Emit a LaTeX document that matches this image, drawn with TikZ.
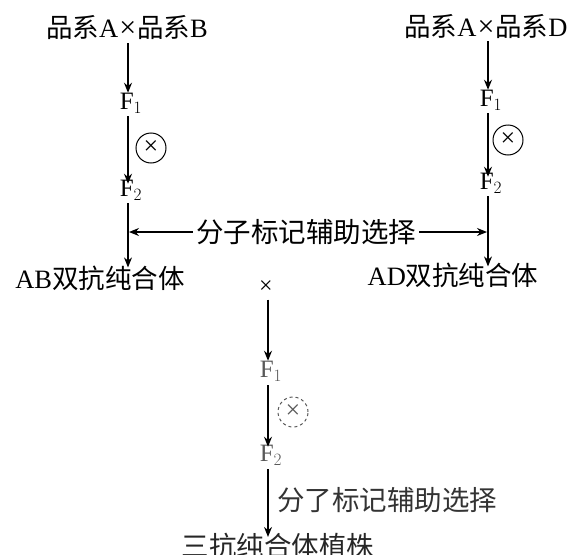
\documentclass[tikz,border=0pt]{standalone}
\usepackage{fontspec}
\setmainfont{Liberation Serif}
\newfontfamily\cjk{Noto Sans CJK SC}
\usetikzlibrary{arrows.meta}
\newcommand{\bigx}{\hspace{1pt}{\fontsize{30}{30}\selectfont ×}\hspace{1pt}}
\begin{document}
\begin{tikzpicture}[x=1pt,y=-1pt,
  arr/.style={line width=1.2pt,-{Stealth[length=10pt,width=8pt]}},
  lbl/.style={inner sep=0pt,font=\fontsize{26.5}{28}\selectfont},
  fnode/.style={inner sep=0pt,font=\fontsize{25}{25}\selectfont},
  selfx/.style={circle,draw,line width=1pt,minimum size=30pt,inner sep=0pt,font=\fontsize{26}{26}\selectfont},
  faint/.style={black!65}]
\useasboundingbox (0,0) rectangle (575,554);
% column coordinates
\coordinate (cl) at (128,0);
\coordinate (cr) at (488,0);
\coordinate (cb) at (268,0);
% left column
\node[lbl] (pab) at (127,28) {{\cjk 品系}A\bigx{\cjk 品系}B};
\node[fnode] (f1l) at (131,103) {F$_1$};
\node[selfx] (xl) at (151,148) {×};
\node[fnode] (f2l) at (131,190) {F$_2$};
\node[lbl] (ab) at (100,278) {AB{\cjk 双抗纯合体}};
% right column
\node[lbl] (pad) at (486,27) {{\cjk 品系}A\bigx{\cjk 品系}D};
\node[fnode] (f1r) at (491,100) {F$_1$};
\node[selfx] (xr) at (508,140) {×};
\node[fnode] (f2r) at (491,183) {F$_2$};
\node[lbl] (ad) at (453,275) {AD{\cjk 双抗纯合体}};
% middle label
\node[lbl,font=\fontsize{27.5}{28}\selectfont\cjk] (mas) at (306,232) {分子标记辅助选择};
% bottom column
\node[inner sep=0pt,font=\fontsize{24}{24}\selectfont] (cross) at (266,287) {×};
\node[fnode,faint] (f1b) at (271,371) {F$_1$};
\node[selfx,faint,dashed] (xb) at (293,412) {×};
\node[fnode,faint] (f2b) at (271,455) {F$_2$};
\node[lbl,font=\fontsize{27.5}{28}\selectfont\cjk,black!80,anchor=west] (mas2) at (277,500) {分了标记辅助选择};
\node[lbl,font=\fontsize{27.5}{28}\selectfont\cjk,black!85] (tri) at (278,546) {三抗纯合体植株};
% arrows left
\draw[arr] (pab.south -| cl) ++(0,3) -- (f1l.north -| cl);
\draw[arr] (f1l.south -| cl) ++(0,3) -- ([yshift=-4pt]f2l.north -| cl);
\draw[arr] (f2l.south -| cl) ++(0,3) -- ([yshift=-2pt]ab.north -| cl);
% arrows right
\draw[arr] (pad.south -| cr) ++(0,2) -- (f1r.north -| cr);
\draw[arr] (f1r.south -| cr) ++(0,3) -- ([yshift=-4pt]f2r.north -| cr);
\draw[arr] (f2r.south -| cr) ++(0,3) -- ([yshift=-4pt]ad.north -| cr);
% selection arrows
\coordinate (hl) at (129,232);
\coordinate (hr) at (487,232);
\draw[arr] ([xshift=-3pt]mas.west) -- (hl);
\draw[arr] ([xshift=3pt]mas.east) -- (hr);
% arrows bottom
\draw[arr] (cross.south -| cb) ++(0,6) -- (f1b.north -| cb);
\draw[arr] (f1b.south -| cb) ++(0,4) -- ([yshift=-2pt]f2b.north -| cb);
\draw[arr] (f2b.south -| cb) ++(0,4) -- ([yshift=-4pt]tri.north -| cb);
\end{tikzpicture}
\end{document}
